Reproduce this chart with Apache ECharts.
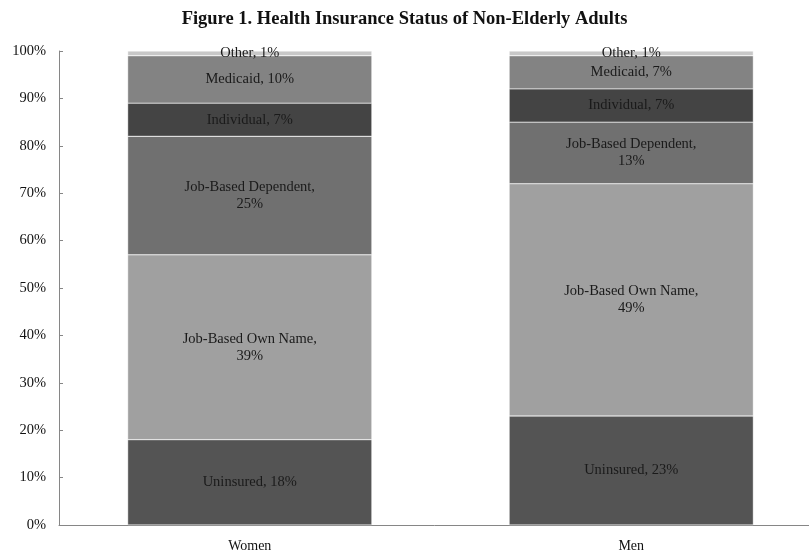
<!DOCTYPE html>
<html>
<head>
<meta charset="utf-8">
<script src="https://cdn.jsdelivr.net/npm/echarts@6/dist/echarts.min.js"></script>
<style>html,body{margin:0;padding:0;background:#fff}#c{width:809px;height:554px}</style>
</head>
<body>
<div id="c"></div>
<script>
const categories = ['Women', 'Men'];
const seriesNames = ['Uninsured', 'Job-Based Own Name', 'Job-Based Dependent', 'Individual', 'Medicaid', 'Other'];
const uninsured = [18, 23];
const ownName = [39, 49];
const dependent = [25, 13];
const individual = [7, 7];
const medicaid = [10, 7];
const other = [1, 1];
const yTicks = ['0%','10%','20%','30%','40%','50%','60%','70%','80%','90%','100%'];

const values = [uninsured, ownName, dependent, individual, medicaid, other];
const colors = ['#545454', '#a0a0a0', '#707070', '#444444', '#838383', '#c8c8c8'];
const twoLine = { 'Job-Based Own Name': true, 'Job-Based Dependent': true };
const font = '"Liberation Serif", "Times New Roman", serif';

const chart = echarts.init(document.getElementById('c'));
chart.setOption({
  animation: false,
  title: {
    text: 'Figure 1. Health Insurance Status of Non-Elderly Adults',
    left: 'center', top: 5,
    textStyle: { fontFamily: font, fontWeight: 'bold', fontSize: 18.5, color: '#111' }
  },
  grid: { left: 59, right: -13, top: 51, bottom: 29, containLabel: false, outerBoundsMode: 'none' },
  xAxis: {
    type: 'category', data: categories,
    axisTick: { show: false },
    axisLine: { lineStyle: { color: '#868686', width: 1 } },
    axisLabel: { fontFamily: font, fontSize: 14, color: '#111', margin: 14 }
  },
  yAxis: {
    type: 'value', min: 0, max: 100, interval: 10,
    axisLine: { show: true, lineStyle: { color: '#868686', width: 1 } },
    axisTick: { show: true, inside: true, length: 4, lineStyle: { color: '#868686' } },
    splitLine: { show: false },
    axisLabel: { fontFamily: font, fontSize: 14.5, color: '#111', margin: 13,
      formatter: function (v) { return yTicks[Math.round(v / 10)]; } }
  },
  series: seriesNames.map(function (name, i) {
    return {
      name: name, type: 'bar', stack: 'total', barWidth: '64%',
      data: values[i],
      itemStyle: { color: colors[i], borderColor: '#ffffff', borderWidth: 0.4 },
      label: {
        show: true, position: 'inside', fontFamily: font, fontSize: 14.5, color: '#1a1a1a', lineHeight: 17,
        formatter: function (p) { return name + (twoLine[name] ? ',\n' : ', ') + p.value + '%'; }
      }
    };
  })
});
</script>
</body>
</html>
